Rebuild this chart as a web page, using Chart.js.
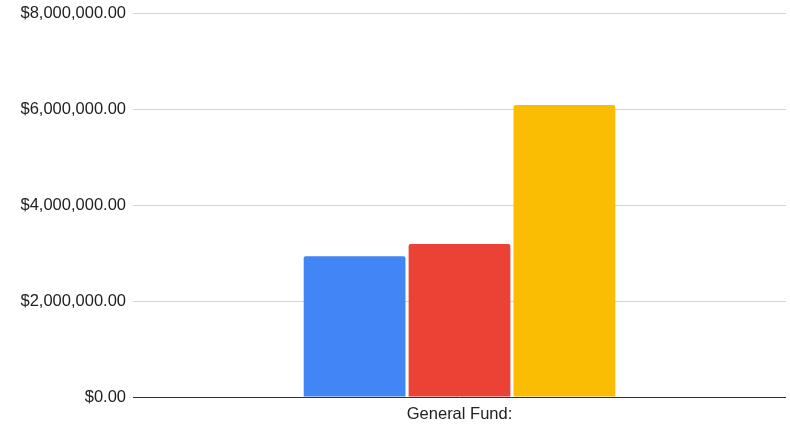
<!DOCTYPE html>
<html>
<head>
<meta charset="utf-8">
<script src="https://cdn.jsdelivr.net/npm/chart.js@4"></script>
<style>
  html, body { margin: 0; padding: 0; background: #fff; }
  #wrap { width: 790px; height: 428px; position: relative; }
</style>
</head>
<body>
<div id="wrap"><canvas id="chart"></canvas></div>
<script>
// =========================
// DATA
// =========================
const categories = ["General Fund:"];
const seriesNames = ["Series 1", "Series 2", "Series 3"];
const seriesA = [2930000];
const seriesB = [3185000];
const seriesC = [6085000];
const seriesColors = ["#4285f4", "#ea4335", "#fbbc04"];

const yMin = 0;
const yMax = 8000000;
const yStep = 2000000;

const money = (v) =>
  "$" + Number(v).toLocaleString("en-US", { minimumFractionDigits: 2, maximumFractionDigits: 2 });

const labelFont = { family: "Liberation Sans, Arial, sans-serif", size: 16.5 };

// =========================
// CHART
// =========================
const ctx = document.getElementById("chart").getContext("2d");
const seriesValues = [seriesA, seriesB, seriesC];

new Chart(ctx, {
  type: "bar",
  data: {
    labels: categories,
    datasets: seriesValues.map((vals, i) => ({
      label: seriesNames[i],
      data: vals,
      backgroundColor: seriesColors[i],
      borderWidth: 0,
      borderRadius: { topLeft: 2, topRight: 2 },
      borderSkipped: "bottom",
      barPercentage: 0.97,
      categoryPercentage: 0.482,
    })),
  },
  options: {
    responsive: true,
    maintainAspectRatio: false,
    animation: false,
    layout: { padding: { top: 13, right: 4, bottom: 0, left: 0 } },
    plugins: {
      legend: { display: false },
      tooltip: { enabled: false },
    },
    scales: {
      x: {
        afterFit: (scale) => {
          scale.height = 31;
          scale.paddingLeft = 0;
          scale.paddingRight = 0;
        },
        grid: { display: false, drawTicks: false },
        border: { display: false },
        ticks: {
          color: "#222",
          padding: 8,
          font: labelFont,
        },
      },
      y: {
        min: yMin,
        max: yMax,
        afterFit: (scale) => {
          scale.width = 133;
          scale.paddingTop = 0;
          scale.paddingBottom = 0;
        },
        grid: {
          drawTicks: false,
          color: (c) => (c.tick && c.tick.value === 0 ? "#333333" : "#d3d3d3"),
          lineWidth: 1,
        },
        border: { display: false },
        ticks: {
          stepSize: yStep,
          padding: 7,
          color: "#222",
          font: labelFont,
          callback: (v) => money(v),
        },
      },
    },
  },
});
</script>
</body>
</html>
